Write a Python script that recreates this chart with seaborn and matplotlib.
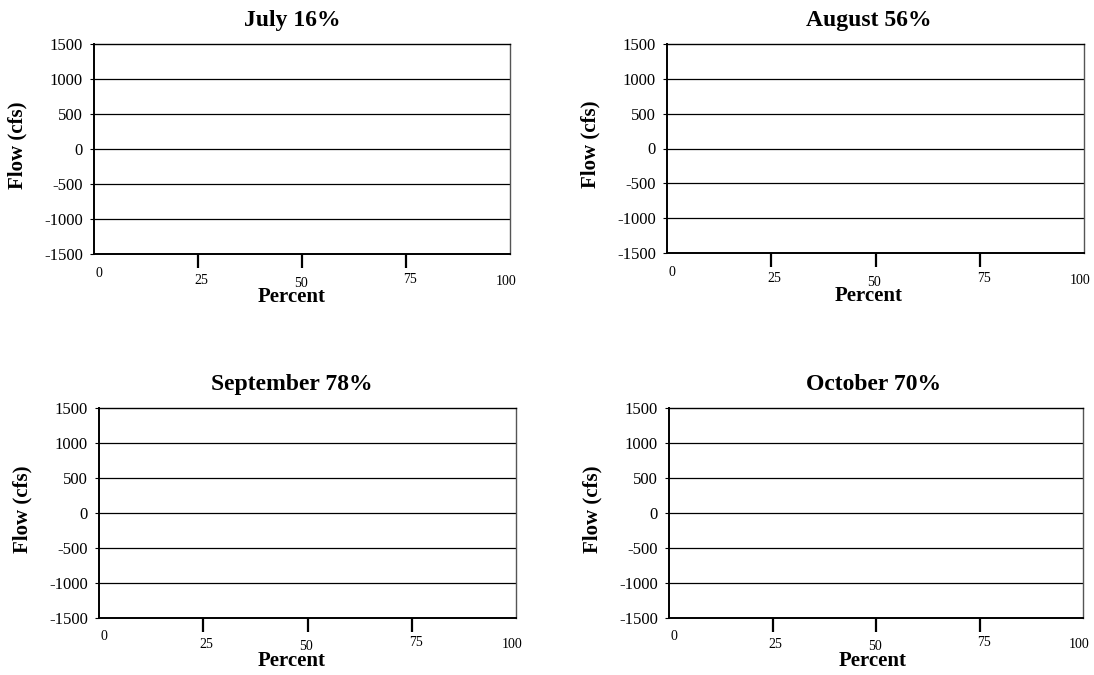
import matplotlib
matplotlib.use("Agg")
import matplotlib.pyplot as plt
import matplotlib.transforms as mtransforms
import seaborn as sns

# Data / labels
months = ["July", "August", "September", "October"]
percents = [16, 56, 78, 70]
y_ticks = [-1500, -1000, -500, 0, 500, 1000, 1500]
grid_values = [-1000, -500, 0, 500, 1000]
x_tick_marks = [25, 50, 75]
x_label_values = [0, 25, 50, 75, 100]

# Style: panel boxes in figure pixels (left, top, right, bottom)
W, H = 1094, 675
boxes = [(94, 44, 510, 254), (667, 44, 1084, 253),
         (99, 408, 516, 618), (669, 408, 1083, 618)]
title_x = [0.476, 0.484, 0.463, 0.493]
lab_dx = [5, 3, -1, 4, -4]       # px offsets of x labels
lab_dy = [-19, -26, -29, -25, -27]

sns.set_style("ticks")
plt.rcParams["font.family"] = ["Liberation Serif", "DejaVu Serif"]
plt.rcParams["text.color"] = "black"
plt.rcParams["axes.labelcolor"] = "black"
plt.rcParams["xtick.color"] = "black"
plt.rcParams["ytick.color"] = "black"

fig = plt.figure(figsize=(W / 100, H / 100), dpi=100)

for i, (month, pct) in enumerate(zip(months, percents)):
    l, t, r, b = boxes[i]
    ax = fig.add_axes([l / W, 1 - b / H, (r - l) / W, (b - t) / H])
    ax.set_xlim(0, 100)
    ax.set_ylim(-1500, 1500)

    for g in grid_values:
        ax.axhline(g, color="black", lw=0.9, zorder=1)

    ax.set_yticks(y_ticks)
    ax.set_yticklabels([str(v) for v in y_ticks], fontsize=12, color="black")
    ax.tick_params(axis="y", length=3, width=0.8, pad=5, colors="black")

    ax.set_xticks(x_tick_marks)
    ax.set_xticklabels([])
    ax.tick_params(axis="x", length=10, width=1.6, direction="out", colors="black")

    trans = mtransforms.blended_transform_factory(ax.transData, ax.transAxes)
    for j, v in enumerate(x_label_values):
        tr = mtransforms.offset_copy(trans, fig=fig, x=lab_dx[j], y=lab_dy[j], units="dots")
        ax.text(v, 0, str(v), transform=tr, ha="center", va="center",
                fontsize=10, color="black")

    for side in ["left", "bottom"]:
        ax.spines[side].set_linewidth(1.4)
        ax.spines[side].set_color("black")
    for side in ["top", "right"]:
        ax.spines[side].set_linewidth(1.0)
        ax.spines[side].set_color("black")
    ax.spines["right"].set_color("#555555")

    ax.set_title(f"{month} {pct}%", fontsize=17, fontweight="bold",
                 x=title_x[i], pad=13, color="black")
    ax.set_xlabel("Percent", fontsize=15, fontweight="bold", color="black")
    ax.xaxis.set_label_coords(title_x[i], -0.205)
    ax.xaxis.label.set_va("center")
    ax.set_ylabel("Flow (cfs)", fontsize=15, fontweight="bold", color="black")
    ax.yaxis.set_label_coords(-77 / (r - l), 0.52)
    ax.yaxis.label.set_va("center")

fig.savefig("out.png", dpi=100)
